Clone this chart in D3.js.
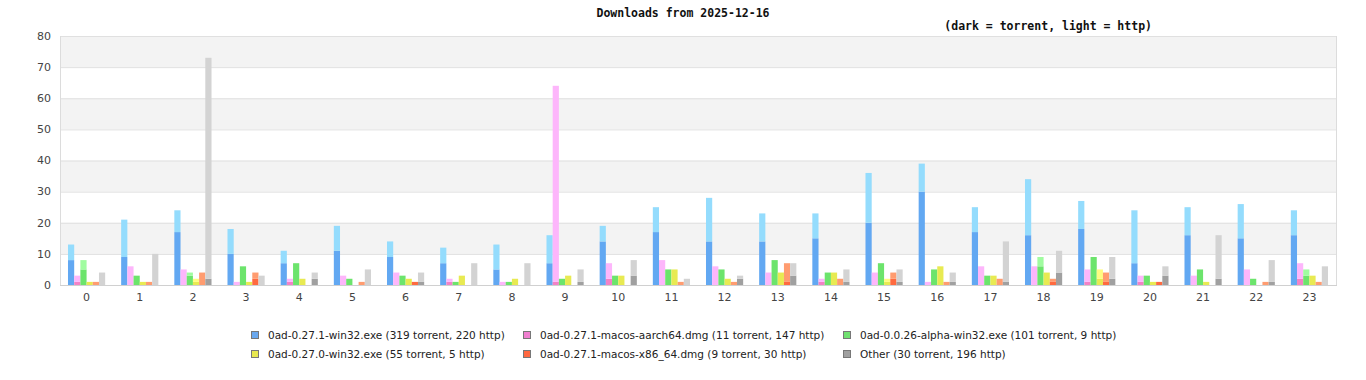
<!DOCTYPE html>
<html lang="en">
<head>
<meta charset="UTF-8">
<title>Downloads</title>
<script src="https://d3js.org/d3.v7.min.js"></script>
<style>
    body { margin: 0; background: #fff; }
    svg { display: block; }
    .title { font-family: "DejaVu Sans Mono", monospace; font-weight: bold; font-size: 11.5px; fill: #111; }
    .tick-label { font-family: "DejaVu Sans", sans-serif; font-size: 11px; fill: #444; }
    .legend-label { font-family: "DejaVu Sans", sans-serif; font-size: 10.5px; fill: #222; }
</style>
</head>
<body>
<svg id="chart"></svg>
<script>
    // hour labels on x
    const hours = ["0", "1", "2", "3", "4", "5", "6", "7", "8", "9", "10", "11",
        "12", "13", "14", "15", "16", "17", "18", "19", "20", "21", "22", "23"];

    const fileNames = [
        "0ad-0.27.1-win32.exe",
        "0ad-0.27.1-macos-aarch64.dmg",
        "0ad-0.0.26-alpha-win32.exe",
        "0ad-0.27.0-win32.exe",
        "0ad-0.27.1-macos-x86_64.dmg",
        "Other"
    ];

    // torrent downloads per hour (dark part)
    const winTorrent = [8, 9, 17, 10, 7, 11, 9, 7, 5, 7, 14, 17, 14, 14, 15, 20, 30, 17, 16, 18, 7, 16, 15, 16];
    const aarchTorrent = [1, 0, 0, 0, 1, 0, 0, 1, 0, 1, 2, 0, 0, 0, 1, 0, 0, 0, 0, 1, 1, 0, 0, 2];
    const alphaTorrent = [5, 3, 3, 6, 7, 2, 3, 1, 1, 2, 3, 5, 5, 8, 4, 7, 5, 3, 6, 9, 3, 5, 2, 3];
    const win270Torrent = [1, 1, 1, 1, 2, 0, 2, 3, 2, 3, 3, 5, 2, 4, 4, 1, 6, 3, 4, 2, 1, 1, 0, 3];
    const x86Torrent = [0, 0, 0, 2, 0, 0, 1, 0, 0, 0, 0, 0, 0, 1, 0, 2, 0, 0, 1, 1, 1, 0, 0, 0];
    const otherTorrent = [0, 0, 2, 0, 2, 0, 1, 0, 0, 1, 3, 0, 2, 3, 1, 1, 1, 1, 4, 2, 3, 2, 1, 0];

    // http downloads per hour (light part, stacked on top)
    const winHttp = [5, 12, 7, 8, 4, 8, 5, 5, 8, 9, 5, 8, 14, 9, 8, 16, 9, 8, 18, 9, 17, 9, 11, 8];
    const aarchHttp = [2, 6, 5, 1, 1, 3, 4, 1, 1, 63, 5, 8, 6, 4, 1, 4, 1, 6, 6, 4, 2, 3, 5, 5];
    const alphaHttp = [3, 0, 1, 0, 0, 0, 0, 0, 0, 0, 0, 0, 0, 0, 0, 0, 0, 0, 3, 0, 0, 0, 0, 2];
    const win270Http = [0, 0, 1, 0, 0, 0, 0, 0, 0, 0, 0, 0, 0, 0, 0, 1, 0, 0, 0, 3, 0, 0, 0, 0];
    const x86Http = [1, 1, 4, 2, 0, 1, 0, 0, 0, 0, 0, 1, 1, 6, 2, 2, 1, 2, 1, 3, 0, 0, 1, 1];
    const otherHttp = [4, 10, 71, 3, 2, 5, 3, 7, 7, 4, 5, 2, 1, 4, 4, 4, 3, 13, 7, 7, 3, 14, 7, 6];

    const yTicks = [0, 10, 20, 30, 40, 50, 60, 70, 80];

    const torrentData = [winTorrent, aarchTorrent, alphaTorrent, win270Torrent, x86Torrent, otherTorrent];
    const httpData = [winHttp, aarchHttp, alphaHttp, win270Http, x86Http, otherHttp];

    const darkColors = ["#62a8f2", "#f282c6", "#6ce46c", "#e8ea52", "#ff6a40", "#a0a0a0"];
    const lightColors = ["#94dcfd", "#fdb6fb", "#a0fca0", "#fffc80", "#ff9c70", "#d3d3d3"];
    const legendColors = ["#6aa8ee", "#f080d0", "#70e070", "#e8e850", "#ff6840", "#a0a0a0"];

    const W = 1366, H = 380;
    const plotLeft = 60, plotRight = 1336, plotTop = 36, plotBottom = 285;

    const svg = d3.select("#chart").attr("width", W).attr("height", H);

    const x0 = d3.scaleBand().domain(hours).range([plotLeft, plotRight]);
    const x1 = d3.scaleBand().domain(d3.range(fileNames.length))
        .range([0, x0.bandwidth()]).paddingInner(0).paddingOuter(1.29);
    const y = d3.scaleLinear().domain([0, 80]).range([plotBottom, plotTop]);

    // alternating background bands
    for (let i = 0; i < yTicks.length - 1; i++) {
        if (i % 2 === 1) {
            svg.append("rect")
                .attr("x", plotLeft).attr("y", y(yTicks[i + 1]))
                .attr("width", plotRight - plotLeft).attr("height", y(yTicks[i]) - y(yTicks[i + 1]))
                .attr("fill", "#f3f3f3");
        }
    }

    // grid lines
    svg.append("g").selectAll("line")
        .data(yTicks)
        .enter().append("line")
        .attr("x1", plotLeft).attr("x2", plotRight)
        .attr("y1", d => y(d) + 0.5).attr("y2", d => y(d) + 0.5)
        .attr("stroke", "#e0e0e0");

    svg.append("line").attr("x1", plotLeft + 0.5).attr("x2", plotLeft + 0.5)
        .attr("y1", plotTop).attr("y2", plotBottom).attr("stroke", "#dcdcdc");
    svg.append("line").attr("x1", plotRight + 0.5).attr("x2", plotRight + 0.5)
        .attr("y1", plotTop).attr("y2", plotBottom).attr("stroke", "#dcdcdc");

    // bars
    fileNames.forEach((name, s) => {
        const g = svg.append("g");
        g.selectAll(".dark")
            .data(hours)
            .enter().append("rect")
            .attr("x", d => x0(d) + x1(s))
            .attr("width", x1.bandwidth())
            .attr("y", (d, i) => y(torrentData[s][i]))
            .attr("height", (d, i) => y(0) - y(torrentData[s][i]))
            .attr("fill", darkColors[s]);
        g.selectAll(".light")
            .data(hours)
            .enter().append("rect")
            .attr("x", d => x0(d) + x1(s))
            .attr("width", x1.bandwidth())
            .attr("y", (d, i) => y(torrentData[s][i] + httpData[s][i]))
            .attr("height", (d, i) => y(torrentData[s][i]) - y(torrentData[s][i] + httpData[s][i]))
            .attr("fill", lightColors[s]);
    });

    // bottom axis line
    svg.append("line").attr("x1", plotLeft).attr("x2", plotRight + 1)
        .attr("y1", plotBottom + 0.5).attr("y2", plotBottom + 0.5).attr("stroke", "#d0d0d0");

    // y labels
    svg.append("g").selectAll("text")
        .data(yTicks)
        .enter().append("text")
        .attr("class", "tick-label")
        .attr("x", 51).attr("y", d => y(d))
        .attr("dy", "0.35em")
        .attr("text-anchor", "end")
        .text(d => d);

    // x labels
    svg.append("g").selectAll("text")
        .data(hours)
        .enter().append("text")
        .attr("class", "tick-label")
        .attr("x", d => x0(d) + x0.bandwidth() / 2)
        .attr("y", 297).attr("dy", "0.35em")
        .attr("text-anchor", "middle")
        .text(d => d);

    // titles
    svg.append("text").attr("class", "title")
        .attr("x", 683).attr("y", 13).attr("dy", "0.35em")
        .attr("text-anchor", "middle")
        .text("Downloads from 2025-12-16");
    svg.append("text").attr("class", "title")
        .attr("x", 1152).attr("y", 26).attr("dy", "0.35em")
        .attr("text-anchor", "end")
        .text("(dark = torrent, light = http)");

    // legend
    const legendX = [251, 523, 843];
    const legendY = [335, 354];
    fileNames.forEach((name, s) => {
        const lx = legendX[s % 3], ly = legendY[Math.floor(s / 3)];
        svg.append("rect")
            .attr("x", lx + 0.5).attr("y", ly - 3.5)
            .attr("width", 7).attr("height", 7)
            .attr("fill", legendColors[s]).attr("stroke", "#777");
        svg.append("text").attr("class", "legend-label")
            .attr("x", lx + 17).attr("y", ly).attr("dy", "0.35em")
            .text(`${name} (${d3.sum(torrentData[s])} torrent, ${d3.sum(httpData[s])} http)`);
    });
</script>
</body>
</html>
